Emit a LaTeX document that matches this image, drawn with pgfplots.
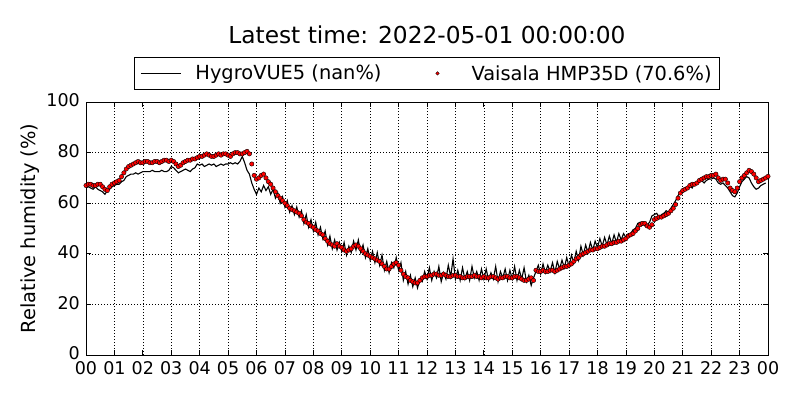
\documentclass[border=0pt]{standalone}
\usepackage{fontspec}
\setmainfont{DejaVu Sans}
\usepackage{pgfplots}
\pgfplotsset{compat=1.18}
\usepackage{pgfplotstable}

\pgfplotstableread{
m v
0 66
5 66.5
10 66
15 65.5
20 66.5
25 65.5
30 65
35 64.5
40 63.5
45 65
50 65.5
55 66.5
60 67
65 67.5
70 67.5
75 68.5
80 69
85 70.5
90 71
95 71.5
100 71.5
105 72
110 71.5
115 72
120 72.5
125 72.5
130 72.5
135 72.5
140 73
145 72.5
150 72.5
155 72.5
160 73
165 72.5
170 72.5
175 73
180 74.5
185 74
190 73
195 72
200 72.5
205 73
210 73.5
215 73
220 72.5
225 73.5
230 74
235 75.5
240 75
245 75.5
250 74.5
255 75
260 75.5
265 75
270 75.5
275 74.5
280 75
285 75.5
290 75
295 75.5
300 75.5
305 76
310 75.5
315 76
320 75.5
325 76.5
330 78.5
335 76
340 73
345 71.5
350 68
355 65.5
360 63.5
365 66
370 64.5
375 67
380 65
385 66.5
390 63.5
395 65.5
400 62
405 64
410 60
415 62.5
420 58.5
425 61
430 56.5
435 59
440 55.5
445 58.5
450 54.5
455 57
460 52
465 55.5
470 50.5
475 53.5
480 49
485 52.5
490 47.5
495 50.5
500 46
505 49
510 43.5
515 47
520 42
525 45.5
530 41.5
535 44.5
540 41
545 44.5
550 39.5
555 43
560 40.5
565 45
570 41.5
575 45.5
580 40.5
585 43.5
590 38.5
595 42
600 37.5
605 41
610 36.5
615 40.5
620 35.5
625 39.5
630 33.5
635 37
640 32.5
645 36.5
650 34.5
655 38.5
660 33.5
665 36.5
670 29.5
675 33
680 28
685 31.5
690 27
695 30.5
700 26.5
705 30
710 29
715 33
720 30
725 34.5
730 29.5
735 33
740 30.5
745 35
750 29
755 32.5
760 30
765 35.5
770 31
775 38
780 30
785 33.5
790 29.5
795 34.5
800 30
805 33
810 29.5
815 35
820 30.5
825 33
830 29.5
835 34
840 30
845 34
850 29.5
855 32.5
860 30
865 35
870 29
875 33
880 30.5
885 34
890 29.5
895 33.5
900 30
905 35
910 29.5
915 33.5
920 30
925 34.5
930 29
935 31.5
940 27.5
945 30.5
950 33
955 35.5
960 32
965 36
970 32.5
975 35.5
980 33
985 36.5
990 32.5
995 37
1000 34
1005 37.5
1010 34.5
1015 38.5
1020 35
1025 39.5
1030 36.5
1035 41
1040 37.5
1045 43
1050 39.5
1055 43.5
1060 40.5
1065 44.5
1070 41.5
1075 45
1080 42.5
1085 46
1090 43
1095 46.5
1100 43.5
1105 47
1110 44
1115 47.5
1120 44.5
1125 48
1130 45.5
1135 48
1140 46.5
1145 48
1150 48
1155 49.5
1160 50
1165 52
1170 52.5
1175 52.5
1180 51
1185 51.5
1190 52.5
1195 55
1200 55.5
1205 56
1210 54.5
1215 55.5
1220 56
1225 57
1230 56.5
1235 58
1240 59.5
1245 61
1250 63
1255 64.5
1260 65.5
1265 66
1270 66.5
1275 67
1280 66
1285 68
1290 67.5
1295 68.5
1300 69
1305 68
1310 69
1315 69.5
1320 69.5
1325 70
1330 69.5
1335 68
1340 67.5
1345 68
1350 67
1355 66
1360 64.5
1365 63
1370 62.5
1375 64
1380 66.5
1385 68.5
1390 69.5
1395 70.5
1400 70
1405 68
1410 66.5
1415 65.5
1420 66
1425 67
1430 67.5
1435 68
}\hygro

\pgfplotstableread{
m v
0 67
5 67.5
10 67.5
15 67
20 67
25 67.5
30 67.5
35 66.5
40 65.5
45 65
50 66.5
55 67.5
60 68
65 68.5
70 69
75 70.5
80 72
85 73.5
90 74.5
95 75
100 75.5
105 76
110 76.5
115 76
120 76
125 76.5
130 76.5
135 76
140 76
145 76.5
150 76.5
155 76
160 76.5
165 77
170 77
175 76.5
180 77
185 76.5
190 75.5
195 74.5
200 75
205 76
210 76.5
215 77
220 77
225 77.5
230 77.5
235 78
240 78.5
245 78.5
250 79
255 79.5
260 79
265 78.5
270 78.5
275 79
280 79.5
285 79
290 79.5
295 79.5
300 79
305 78.5
310 79.5
315 80
320 80
325 79.5
330 79.5
335 80
340 80.5
345 79.5
350 75.5
355 71
360 69.5
365 70
370 71
375 71.5
380 70
385 68.5
390 67.5
395 66
400 64.5
405 63
410 62
415 61
420 60
425 59
430 58
435 57.5
440 57
445 56.5
450 56
455 55
460 53.5
465 52.5
470 52
475 51
480 50.5
485 49.5
490 49
495 48
500 47.5
505 46
510 45
515 44
520 43.5
525 43
530 44
535 43
540 42.5
545 41.5
550 41
555 41.5
560 42
565 43
570 43.5
575 43
580 42
585 41
590 40
595 39.5
600 39
605 38.5
610 38
615 37.5
620 37
625 36
630 35
635 34
640 34
645 35
650 36
655 36.5
660 35.5
665 33.5
670 32
675 31
680 30.5
685 29.5
690 29
695 28.5
700 28.5
705 29.5
710 30.5
715 31
720 31
725 31.5
730 31.5
735 32
740 32
745 31.5
750 31.5
755 32
760 31.5
765 31
770 31
775 31.5
780 31.5
785 31
790 31
795 30.5
800 30.5
805 31
810 31
815 31
820 31.5
825 31
830 31
835 30.5
840 31
845 30.5
850 30.5
855 31
860 31
865 30.5
870 30
875 30.5
880 30.5
885 31
890 31
895 30.5
900 30.5
905 31
910 31
915 30.5
920 30
925 29.5
930 29.5
935 30
940 30.5
945 29.5
950 33.5
955 33
960 33
965 33.5
970 33
975 33
980 33.5
985 33.5
990 33
995 33.5
1000 34
1005 34.5
1010 35
1015 35
1020 35.5
1025 36
1030 37
1035 38
1040 38.5
1045 39.5
1050 40
1055 40.5
1060 41
1065 41.5
1070 41.5
1075 42
1080 42
1085 42.5
1090 43
1095 43
1100 43.5
1105 44
1110 44
1115 44.5
1120 44.5
1125 45
1130 45
1135 45.5
1140 46
1145 47
1150 47.5
1155 48
1160 49
1165 50
1170 51.5
1175 52
1180 52
1185 51
1190 50.5
1195 51.5
1200 53.5
1205 54
1210 54.5
1215 54.5
1220 55
1225 55.5
1230 56
1235 57
1240 58
1245 59.5
1250 62
1255 64
1260 65
1265 65.5
1270 66
1275 67
1280 67.5
1285 67.5
1290 68
1295 69
1300 69.5
1305 70
1310 70.5
1315 70.5
1320 71
1325 71
1330 71.5
1335 70
1340 69
1345 69.5
1350 69.5
1355 68
1360 66
1365 65
1370 64.5
1375 66
1380 68.5
1385 70
1390 71
1395 72
1400 73
1405 72.5
1410 71.5
1415 70
1420 68.5
1425 69
1430 69.5
1435 70
1440 70.6
}\vaisala

\begin{document}
\begin{tikzpicture}
\path[use as bounding box] (0pt,0pt) rectangle (800pt,400pt);
\begin{axis}[
  at={(86pt,45pt)}, anchor=south west,
  scale only axis, width=682pt, height=253pt,
  xmin=0, xmax=1440, ymin=0, ymax=100,
  xtick={0,60,...,1440},
  xticklabels={00,01,02,03,04,05,06,07,08,09,10,11,12,13,14,15,16,17,18,19,20,21,22,23,00},
  ytick={0,20,...,100},
  /pgf/number format/assume math mode=true,
  ticklabel style={font=\fontsize{17.5}{20}\selectfont},
  xticklabel style={inner sep=0pt, yshift=-6.5pt},
  yticklabel style={inner sep=0pt, xshift=-6pt, yshift=1.5pt},
  tick align=inside,
  major tick length=5pt,
  tick style={black, line width=0.8pt},
  axis line style={black, line width=1pt},
  grid=major,
  major grid style={black, line width=0.6pt, dash pattern=on 1pt off 2pt},
  ylabel={Relative humidity (\%)},
  ylabel style={font=\fontsize{19.4}{22}\selectfont, at={(axis description cs:-0.0821,0.5)}, anchor=center},
  legend columns=2,
  legend style={at={(0.5,1)}, anchor=south, yshift=12pt, draw=black, line width=1pt,
    font=\fontsize{19.4}{22}\selectfont, inner xsep=6pt, inner ysep=6pt,
    /tikz/every odd column/.append style={column sep=12pt},
    /tikz/every even column/.append style={column sep=34pt}},
  legend cell align=left,
  clip=true,
]
\addplot[black, line width=1.1pt, mark=none,
  legend image code/.code={\draw[black, line width=1pt] (0pt,0pt) -- (40pt,0pt);}]
  table[x=m, y=v] {\hygro};
\addlegendentry{HygroVUE5 (nan\%)}
\addplot[only marks, mark=*, mark size=2.2pt, mark options={fill=red, draw=black, line width=0.4pt},
  legend image code/.code={\path[draw=none] (0pt,0pt) -- (40pt,0pt); \draw[fill=red, draw=black, line width=0.3pt] (20pt,0pt) circle (1.8pt);}]
  table[x=m, y=v] {\vaisala};
\addlegendentry{Vaisala HMP35D (70.6\%)}
\end{axis}
\node[font=\fontsize{23.3}{26}\selectfont, anchor=base] at (427pt,356pt) {Latest time: 2022-05-01 00:00:00};
\end{tikzpicture}
\end{document}
